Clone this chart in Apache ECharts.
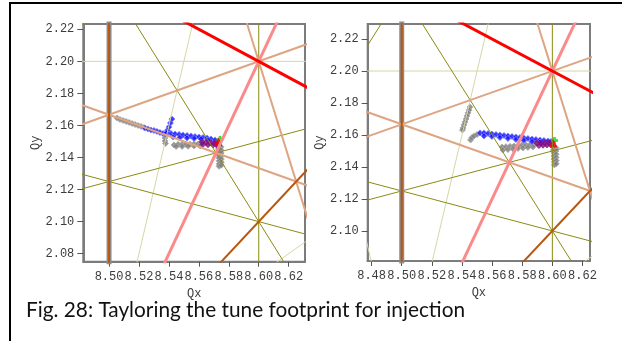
<!DOCTYPE html>
<html>
<head>
<meta charset="utf-8">
<script src="https://cdn.jsdelivr.net/npm/echarts@6/dist/echarts.min.js"></script>
<style>
  html, body { margin: 0; padding: 0; background: #fff; }
  #chart { width: 622px; height: 341px; }
</style>
</head>
<body>
<div id="chart"></div>
<script>
// Resonance lines a*Qx + b*Qy = c, grouped by order and normal/skew
const order2Normal = [[2, 0, 17]];
const order3Normal = [[1, 2, 13]];
const order3Skew   = [[2, -1, 15]];
const order4Normal = [[4, 0, 34], [2, -2, 13]];
const order4Skew   = [[3, 1, 28], [1, 3, 15], [1, -3, 2]];
const order5Normal = [[5, 0, 43], [3, 2, 30], [3, -2, 21], [1, 4, 17], [1, -4, 0]];
const order5Skew   = [[0, 5, 11], [4, 1, 36], [4, -1, 32], [2, -3, 11]];

// Axis ranges and tick labels of the two tune diagrams
const leftQxRange  = [8.4828, 8.6309];
const leftQyRange  = [2.075, 2.2233];
const rightQxRange = [8.4774, 8.625];
const rightQyRange = [2.0812, 2.2294];
const leftQxTicks  = [8.50, 8.52, 8.54, 8.56, 8.58, 8.60, 8.62];
const leftQyTicks  = [2.08, 2.10, 2.12, 2.14, 2.16, 2.18, 2.20, 2.22];
const rightQxTicks = [8.48, 8.50, 8.52, 8.54, 8.56, 8.58, 8.60, 8.62];
const rightQyTicks = [2.10, 2.12, 2.14, 2.16, 2.18, 2.20, 2.22];

// Tune footprint, left diagram
const leftGrey = [
  [8.5053, 2.1647], [8.5073, 2.1637], [8.5094, 2.1631], [8.5114, 2.1625], [8.5134, 2.1619],
  [8.5154, 2.1612], [8.5174, 2.1606], [8.5194, 2.1600], [8.5214, 2.1594], [8.5234, 2.1588],
  [8.5374, 2.1522], [8.5374, 2.1503], [8.5377, 2.1488],
  [8.5434, 2.1478], [8.5461, 2.1482], [8.5488, 2.1482], [8.5514, 2.1483], [8.5541, 2.1483],
  [8.5568, 2.1485], [8.5595, 2.1485], [8.5615, 2.1486],
  [8.5448, 2.1469], [8.5488, 2.1469], [8.5528, 2.1470], [8.5568, 2.1472], [8.5608, 2.1472],
  [8.5731, 2.1472], [8.5731, 2.1454], [8.5731, 2.1435], [8.5733, 2.1416], [8.5733, 2.1398],
  [8.5735, 2.1379], [8.5735, 2.1360], [8.5735, 2.1345],
  [8.5748, 2.1466], [8.5748, 2.1447], [8.5749, 2.1428], [8.5749, 2.1409], [8.5750, 2.1390],
  [8.5750, 2.1371], [8.5750, 2.1352]
];
const leftBlue = [
  [8.5240, 2.1584], [8.5260, 2.1578], [8.5280, 2.1572], [8.5300, 2.1569], [8.5320, 2.1563],
  [8.5340, 2.1556], [8.5360, 2.1550], [8.5380, 2.1544],
  [8.5420, 2.1640], [8.5410, 2.1615], [8.5400, 2.1590], [8.5390, 2.1570], [8.5385, 2.1555],
  [8.5414, 2.1550], [8.5441, 2.1547], [8.5468, 2.1544], [8.5494, 2.1541], [8.5521, 2.1538],
  [8.5548, 2.1535], [8.5574, 2.1531], [8.5601, 2.1528], [8.5628, 2.1525], [8.5655, 2.1522],
  [8.5681, 2.1516], [8.5708, 2.1510],
  [8.5428, 2.1528], [8.5474, 2.1525], [8.5521, 2.1522], [8.5568, 2.1519], [8.5615, 2.1516],
  [8.5661, 2.1510]
];
const leftPurple = [
  [8.5621, 2.1497], [8.5648, 2.1495], [8.5675, 2.1493], [8.5701, 2.1491], [8.5721, 2.1488],
  [8.5628, 2.1482], [8.5661, 2.1480], [8.5695, 2.1479], [8.5721, 2.1475]
];
const leftWorkingPoint = [[8.5731, 2.1497]];
const leftGreenMark = [[8.5741, 2.1513]];

// Tune footprint, right diagram
const rightGrey = [
  [8.5453, 2.1775], [8.5447, 2.1756], [8.5440, 2.1738], [8.5433, 2.1719], [8.5427, 2.1700],
  [8.5420, 2.1681], [8.5413, 2.1663], [8.5407, 2.1644], [8.5403, 2.1631],
  [8.5457, 2.1569], [8.5466, 2.1584], [8.5480, 2.1594], [8.5500, 2.1603],
  [8.5666, 2.1525], [8.5692, 2.1527], [8.5719, 2.1529], [8.5745, 2.1531], [8.5772, 2.1533],
  [8.5798, 2.1536], [8.5825, 2.1538], [8.5851, 2.1539], [8.5878, 2.1542],
  [8.5672, 2.1506], [8.5705, 2.1509], [8.5739, 2.1513], [8.5772, 2.1516], [8.5805, 2.1519],
  [8.5838, 2.1522], [8.5871, 2.1525],
  [8.6007, 2.1525], [8.6007, 2.1506], [8.6011, 2.1488], [8.6011, 2.1469], [8.6011, 2.1450],
  [8.6014, 2.1431], [8.6014, 2.1413],
  [8.6024, 2.1520], [8.6024, 2.1500], [8.6025, 2.1480], [8.6025, 2.1460], [8.6026, 2.1440],
  [8.6026, 2.1420]
];
const rightBlue = [
  [8.5520, 2.1613], [8.5546, 2.1613], [8.5573, 2.1609], [8.5599, 2.1606], [8.5626, 2.1603],
  [8.5652, 2.1600], [8.5679, 2.1597], [8.5705, 2.1594], [8.5732, 2.1591], [8.5758, 2.1588],
  [8.5785, 2.1584], [8.5811, 2.1581], [8.5838, 2.1578], [8.5865, 2.1575], [8.5891, 2.1572],
  [8.5918, 2.1569], [8.5944, 2.1566], [8.5971, 2.1563], [8.5991, 2.1559],
  [8.5546, 2.1594], [8.5599, 2.1591], [8.5652, 2.1584], [8.5705, 2.1578], [8.5758, 2.1572],
  [8.5811, 2.1566], [8.5865, 2.1559], [8.5918, 2.1556]
];
const rightPurple = [
  [8.5898, 2.1550], [8.5924, 2.1550], [8.5951, 2.1552], [8.5977, 2.1553],
  [8.5911, 2.1534], [8.5938, 2.1536], [8.5964, 2.1538], [8.5991, 2.1539]
];
const rightWorkingPoint = [[8.6006, 2.1548]];
const rightGreenMark = [[8.6014, 2.1566]];

// Line style for each resonance family (drawn from high order to low order)
const resonanceStyles = [
  { lines: order5Skew,   color: '#d6d6a6', width: 1 },
  { lines: order5Normal, color: '#8a8a14', width: 1 },
  { lines: order2Normal, color: '#8c8c8c', width: 5 },
  { lines: order4Skew,   color: '#dea583', width: 2 },
  { lines: order4Normal, color: '#b9560f', width: 2 },
  { lines: order3Skew,   color: '#fb8a8a', width: 3 },
  { lines: order3Normal, color: '#ff0000', width: 3 }
];

// Two points of a resonance line spanning past the axis range (clipped by the grid)
function lineEnds(coef, xr, yr) {
  const [a, b, c] = coef;
  if (b === 0) {
    const x = c / a;
    return [[x, yr[0] - 1], [x, yr[1] + 1]];
  }
  const x0 = xr[0] - 0.5, x1 = xr[1] + 0.5;
  return [[x0, (c - a * x0) / b], [x1, (c - a * x1) / b]];
}

const tickFont = { fontFamily: 'Liberation Mono', fontSize: 12, color: '#3c3c3c' };

function makeXAxis(gridIndex, range, ticks) {
  return {
    gridIndex, type: 'value', min: range[0], max: range[1],
    name: 'Qx', nameLocation: 'middle', nameGap: 23,
    nameTextStyle: { fontFamily: 'Liberation Mono', fontSize: 12, color: '#3c3c3c' },
    axisLine: { show: true, onZero: false, lineStyle: { color: '#7c7c7c', width: 2 } },
    axisTick: { show: true, customValues: ticks, length: 5, lineStyle: { color: '#555' } },
    axisLabel: { customValues: ticks, margin: 9, formatter: v => v.toFixed(2), ...tickFont },
    splitLine: { show: false }
  };
}
function makeYAxis(gridIndex, range, ticks) {
  return {
    gridIndex, type: 'value', min: range[0], max: range[1],
    name: 'Qy', nameLocation: 'middle', nameGap: 40,
    nameTextStyle: { fontFamily: 'Liberation Mono', fontSize: 12, color: '#3c3c3c' },
    axisLine: { show: true, onZero: false, lineStyle: { color: '#7c7c7c', width: 2 } },
    axisTick: { show: true, customValues: ticks, length: 6, lineStyle: { color: '#555' } },
    axisLabel: { customValues: ticks, margin: 9, formatter: v => v.toFixed(2), ...tickFont },
    splitLine: { show: false }
  };
}

const series = [];
function addPanel(idx, xr, yr, grey, blue, purple, wp, green) {
  resonanceStyles.forEach(fam => {
    fam.lines.forEach(coef => {
      series.push({
        type: 'line', xAxisIndex: idx, yAxisIndex: idx,
        data: lineEnds(coef, xr, yr), showSymbol: false, symbol: 'none',
        clip: true, silent: true, animation: false,
        lineStyle: { color: fam.color, width: fam.width }
      });
    });
  });
  const pts = (data, color, border, size, symbol) => ({
    type: 'scatter', xAxisIndex: idx, yAxisIndex: idx, data,
    symbol: symbol || 'diamond', symbolSize: size, animation: false, silent: true,
    itemStyle: { color, borderColor: border, borderWidth: 1 }
  });
  series.push(pts(grey, '#7a7a7a', '#a9a9a9', 6));
  series.push(pts(blue, '#0a0aff', '#7f7fff', 6));
  series.push(pts(purple, '#7d0a7d', '#8c1a8c', 6));
  series.push(pts(green, '#10e010', '#10e010', 6, 'path://M2,0H4V2H6V4H4V6H2V4H0V2H2Z'));
  series.push(pts(wp, '#ff0000', '#ff0000', 7, 'triangle'));
}
addPanel(0, leftQxRange, leftQyRange, leftGrey, leftBlue, leftPurple, leftWorkingPoint, leftGreenMark);
addPanel(1, rightQxRange, rightQyRange, rightGrey, rightBlue, rightPurple, rightWorkingPoint, rightGreenMark);

const chart = echarts.init(document.getElementById('chart'), null, { renderer: 'canvas' });
chart.setOption({
  animation: false,
  backgroundColor: '#ffffff',
  grid: [
    { left: 83.3, top: 24, width: 221.7, height: 237.7, show: true, borderColor: '#7c7c7c', borderWidth: 2, backgroundColor: 'transparent' },
    { left: 367.7, top: 24, width: 222.3, height: 237, show: true, borderColor: '#7c7c7c', borderWidth: 2, backgroundColor: 'transparent' }
  ],
  xAxis: [makeXAxis(0, leftQxRange, leftQxTicks), makeXAxis(1, rightQxRange, rightQxTicks)],
  yAxis: [makeYAxis(0, leftQyRange, leftQyTicks), makeYAxis(1, rightQyRange, rightQyTicks)],
  series,
  graphic: [
    {
      type: 'rect', silent: true,
      shape: { x: 10, y: 3, width: 700, height: 400 },
      style: { fill: 'none', stroke: '#000', lineWidth: 2 }
    },
    {
      type: 'text', left: 26, top: 300, silent: true,
      style: { text: 'Fig. 28: Tayloring the tune footprint for injection', font: '20.8px Lato', fill: '#111' }
    }
  ]
});
</script>
</body>
</html>
